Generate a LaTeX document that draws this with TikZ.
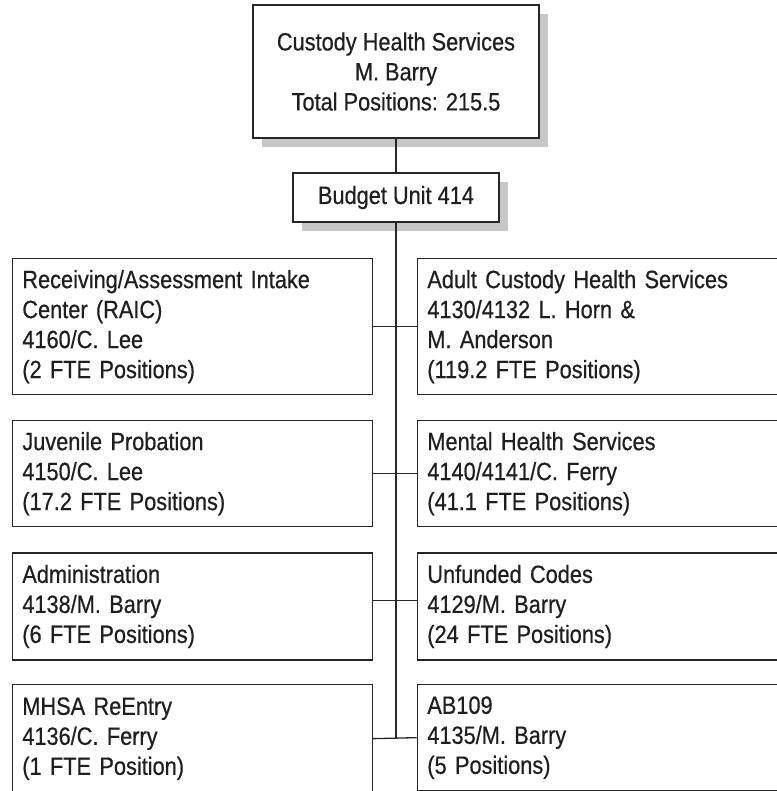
\documentclass[tikz,border=0pt]{standalone}
\usepackage{fontspec}
\setmainfont[FakeStretch=0.87,FakeBold=0.5]{Liberation Sans}
\usetikzlibrary{shadows}

\begin{document}
\begin{tikzpicture}[x=0.5pt,y=-0.5pt,
  every node/.style={font=\fontsize{12.5}{15}\selectfont, text=black!88},
  box/.style={draw=black!85, line width=0.65pt, fill=white, rectangle, inner sep=0pt},
  head/.style={box, align=center, general shadow={fill=black!22, shadow xshift=4.5pt, shadow yshift=-4.5pt}},
  unit/.style={box, anchor=north west, align=left, text width=170pt, inner xsep=5pt},
  link/.style={draw=black!85, line width=0.65pt}]
\useasboundingbox (0,0) rectangle (776,791);

% top of the chart
\node[head, minimum width=143pt, minimum height=66.5pt] (chs) at (396,71.5)
  {Custody Health Services\\M. Barry\\Total Positions: 215.5};
\node[head, minimum width=103pt, minimum height=24.5pt] (bu) at (396,197.5)
  {Budget Unit 414};

% left column
\node[unit, minimum height=68pt] (raic) at (11.7,258)
  {Receiving/Assessment Intake\\Center (RAIC)\\4160/C. Lee\\(2 FTE Positions)};
\node[unit, minimum height=53pt] (juv) at (11.7,420)
  {Juvenile Probation\\4150/C. Lee\\(17.2 FTE Positions)};
\node[unit, minimum height=53.5pt] (adm) at (11.7,552.3)
  {Administration\\4138/M. Barry\\(6 FTE Positions)};
\node[unit, minimum height=54pt] (reentry) at (11.7,684)
  {MHSA ReEntry\\4136/C. Ferry\\(1 FTE Position)};

% right column
\node[unit, minimum height=68pt] (achs) at (416.7,258)
  {Adult Custody Health Services\\4130/4132 L. Horn \&\\M. Anderson\\(119.2 FTE Positions)};
\node[unit, minimum height=53pt] (mhs) at (416.7,420)
  {Mental Health Services\\4140/4141/C. Ferry\\(41.1 FTE Positions)};
\node[unit, minimum height=53.5pt] (unf) at (416.7,552.3)
  {Unfunded Codes\\4129/M. Barry\\(24 FTE Positions)};
\node[unit, minimum height=53pt] (ab) at (416.7,684)
  {AB109\\4135/M. Barry\\(5 Positions)};

\draw[link] (chs) -- (bu);
\draw[link] (bu.south) -- (bu.south |- ab.west);
\foreach \l/\r/\s in {raic/achs/0pt, juv/mhs/0pt, adm/unf/3pt, reentry/ab/0pt}
  \draw[link] ([yshift=\s]\l.east) -- ([yshift=\s]\r.west);
\end{tikzpicture}
\end{document}
